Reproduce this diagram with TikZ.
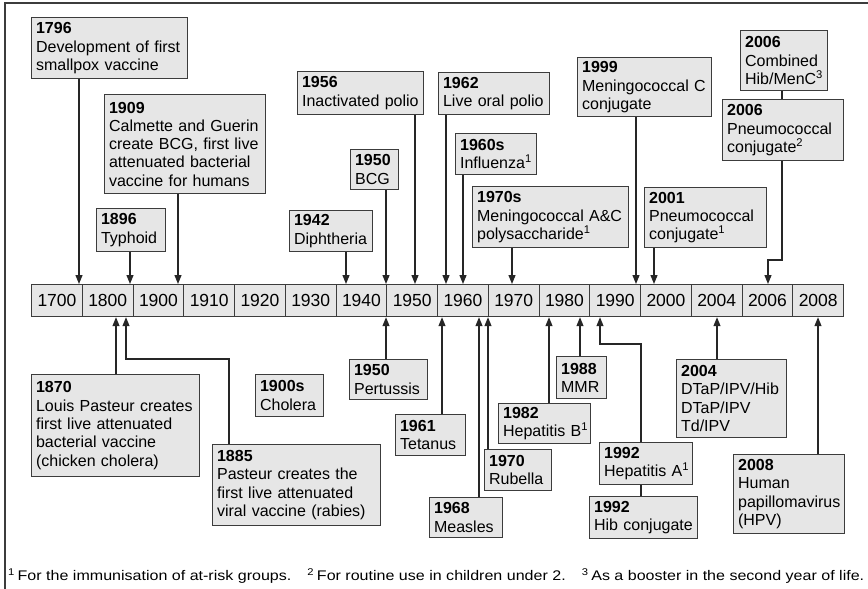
\documentclass[tikz,border=0pt]{standalone}
\usepackage{fontspec}
\setmainfont{Liberation Sans}
\usepackage{graphicx}
\usetikzlibrary{arrows.meta}
\definecolor{boxfill}{HTML}{E6E6E6}
\definecolor{boxline}{HTML}{3C3C3C}

\begin{document}
\begin{tikzpicture}[x=1pt, y=-1pt,
    event/.style={draw=boxline, fill=boxfill, line width=1.2pt, anchor=north west, align=left, inner xsep=4.5pt, inner ysep=0pt, font=\fontsize{16}{18.3}\selectfont},
    decade/.style={draw=boxline, fill=boxfill, line width=1.2pt, anchor=north west, minimum width=50.75pt, minimum height=32pt, inner sep=0pt, font=\fontsize{17.5}{20}\selectfont},
    link/.style={draw=black!85, line width=1.2pt},
    arr/.style={link, -{Triangle[length=9pt, width=7pt]}}]
    \useasboundingbox (0,0) rectangle (868,589);

    % Frame
    \draw[boxline, line width=1.2pt] (5,589) -- (5,3) -- (868,3);

    % Timeline
    \foreach \yr [count=\i from 0] in {1700,1800,1900,1910,1920,1930,1940,1950,1960,1970,1980,1990,2000,2004,2006,2008}
        \node (d\yr) at ({31+50.75*\i},284) [decade] {\yr};

    % Events above the timeline
    \node (b1796) at (31,17) [event, text width=147pt, minimum height=61pt] {\textbf{1796}\\Development of first\\smallpox vaccine};
    \node (b1909) at (104,94) [event, text width=152pt, minimum height=99pt] {\textbf{1909}\\Calmette and Guerin\\create BCG, first live\\attenuated bacterial\\vaccine for humans};
    \node (b1896) at (96,208) [event, text width=60pt, minimum height=43pt] {\textbf{1896}\\Typhoid};
    \node (b1942) at (289,210) [event, text width=74pt, minimum height=41pt] {\textbf{1942}\\Diphtheria};
    \node (b1950bcg) at (350,149) [event, text width=39pt, minimum height=40pt] {\textbf{1950}\\BCG};
    \node (b1956) at (297,71) [event, text width=117pt, minimum height=43pt] {\textbf{1956}\\Inactivated~polio};
    \node (b1962) at (438,72) [event, text width=102pt, minimum height=42pt] {\textbf{1962}\\Live oral polio};
    \node (b1960s) at (455,133) [event, text width=72pt, minimum height=41pt] {\textbf{1960s}\\Influenza\textsuperscript{1}};
    \node (b1970s) at (472,186) [event, text width=147pt, minimum height=61pt] {\textbf{1970s}\\Meningococcal~A\&C\\polysaccharide\textsuperscript{1}};
    \node (b1999) at (577,57) [event, text width=125pt, minimum height=59pt] {\textbf{1999}\\Meningococcal C\\conjugate};
    \node (b2001) at (644,187) [event, text width=113pt, minimum height=60pt] {\textbf{2001}\\Pneumococcal\\conjugate\textsuperscript{1}};
    \node (b2006a) at (740,30) [event, text width=78pt, minimum height=60pt] {\textbf{2006}\\Combined\\Hib/MenC\textsuperscript{3}};
    \node (b2006b) at (722,99) [event, text width=112pt, minimum height=61pt] {\textbf{2006}\\Pneumococcal\\conjugate\textsuperscript{2}};

    % Events below the timeline
    \node (b1870) at (31,374) [event, text width=159pt, minimum height=102pt] {\textbf{1870}\\Louis Pasteur creates\\first live attenuated\\bacterial vaccine\\(chicken cholera)};
    \node (b1885) at (212,444) [event, text width=159pt, minimum height=81pt] {\textbf{1885}\\Pasteur creates the\\first live attenuated\\viral vaccine (rabies)};
    \node (b1900s) at (255,374) [event, text width=59pt, minimum height=42pt] {\textbf{1900s}\\Cholera};
    \node (b1950p) at (349,359) [event, text width=69pt, minimum height=40pt] {\textbf{1950}\\Pertussis};
    \node (b1961) at (395,414) [event, text width=61pt, minimum height=41pt] {\textbf{1961}\\Tetanus};
    \node (b1968) at (429,497) [event, text width=64pt, minimum height=40pt] {\textbf{1968}\\Measles};
    \node (b1970r) at (484,449) [event, text width=58pt, minimum height=41pt] {\textbf{1970}\\Rubella};
    \node (b1982) at (498,403) [event, text width=83pt, minimum height=40pt] {\textbf{1982}\\Hepatitis~B\textsuperscript{1}};
    \node (b1988) at (556,356) [event, text width=41pt, minimum height=42pt] {\textbf{1988}\\MMR};
    \node (b1992a) at (599,442) [event, text width=84pt, minimum height=42pt] {\textbf{1992}\\Hepatitis~A\textsuperscript{1}};
    \node (b1992b) at (589,496) [event, text width=99pt, minimum height=42pt] {\textbf{1992}\\Hib~conjugate};
    \node (b2004) at (676,359) [event, text width=101pt, minimum height=78pt] {\textbf{2004}\\DTaP/IPV/Hib\\DTaP/IPV\\Td/IPV};
    \node (b2008) at (733,454) [event, text width=102pt, minimum height=79pt] {\textbf{2008}\\Human\\papillomavirus\\(HPV)};

    % Arrows down to the timeline
    \foreach \n/\x in {1796/79, 1909/178, 1896/130, 1942/346, 1950bcg/386, 1956/415, 1962/446, 1960s/463, 1970s/512, 1999/636, 2001/654}
        \draw[arr] (\x,0 |- b\n.south) -- (\x,0 |- d1700.north);
    \draw[link] (782,0 |- b2006a.south) -- (782,0 |- b2006b.north);
    \draw[arr] (782,0 |- b2006b.south) |- (768,260) -- (768,0 |- d1700.north);

    % Arrows up to the timeline
    \foreach \n/\x in {1870/116, 1950p/386, 1961/442, 1968/479, 1970r/488, 1982/549, 1988/580, 2004/717, 2008/818}
        \draw[arr] (\x,0 |- b\n.north) -- (\x,0 |- d1700.south);
    \draw[arr] (229,0 |- b1885.north) |- (126,359) -- (126,0 |- d1700.south);
    \draw[link] (641,0 |- b1992b.north) -- (641,0 |- b1992a.south);
    \draw[arr] (641,0 |- b1992a.north) |- (600,344) -- (600,0 |- d1700.south);

    % Footnotes
    \node (notes) at (8,576) [anchor=west, inner sep=0pt] {\resizebox{856pt}{!}{\scalebox{1.15}[1]{\fontsize{14}{16}\selectfont
        \textsuperscript{1}\,For the immunisation of at-risk groups.\quad
        \textsuperscript{2}\,For routine use in children under 2.\quad
        \textsuperscript{3}\,As a booster in the second year of life.}}};
\end{tikzpicture}
\end{document}
